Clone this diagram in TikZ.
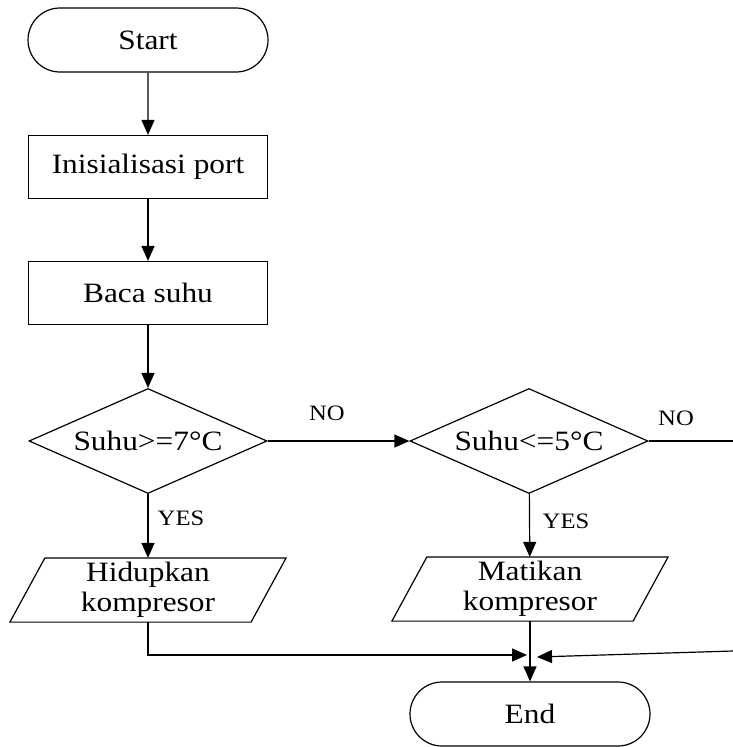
\documentclass[tikz,border=0pt]{standalone}
\usepackage{fontspec}
\setmainfont{Liberation Serif}[FakeStretch=1.12]
\usetikzlibrary{shapes.misc,shapes.geometric,arrows.meta}
\begin{document}
\begin{tikzpicture}[x=1pt,y=-1pt,
  line width=1.2pt,
  every node/.style={font=\fontsize{28}{30}\selectfont},
  term/.style={draw,rounded rectangle,minimum width=240pt,minimum height=64pt,inner sep=0pt},
  procbox/.style={draw,rectangle,minimum width=239pt,minimum height=63pt,inner sep=0pt},
  decide/.style={draw,diamond,aspect=2.27,inner sep=0pt,minimum width=238pt,minimum height=105pt},
  iobox/.style={rectangle,minimum width=240pt,minimum height=63pt,inner sep=0pt,align=center},
  lbl/.style={font=\fontsize{22}{24}\selectfont},
  arr/.style={-{Triangle[length=15pt,width=13pt]}}
]
\useasboundingbox (0,0) rectangle (733,747);
\node[term] (start) at (148,40) {Start};
\node[procbox] (init) at (148,167) {Inisialisasi port};
\node[procbox] (baca) at (148,293) {Baca suhu};
\node[decide] (d1) at (148,441) {Suhu>=7°C};
\node[decide] (d2) at (529,441) {Suhu<=5°C};
\node[iobox] (p1) at (148,590) {Hidupkan\\kompresor};
\node[iobox] (p2) at (530,589) {Matikan\\kompresor};
\node[term] (end) at (530,714) {End};
\foreach \p in {p1,p2}{
  \draw ([xshift=17.5pt]\p.north west) -- ([xshift=17.5pt]\p.north east)
     -- ([xshift=-17.5pt]\p.south east) -- ([xshift=-17.5pt]\p.south west) -- cycle;
}
\coordinate (noend) at (733,441);
\coordinate (rin) at (733,651);
\coordinate (lt) at (527,655);
\coordinate (rt) at (537,657);
\draw[arr] (start) -- (init);
\draw[arr] (init) -- (baca);
\draw[arr] (baca) -- (d1);
\draw[arr] (d1) -- (d2);
\draw[arr] (d1) -- (p1);
\draw[arr] (d2) -- (p2);
\draw (d2.east) -- (noend);
\draw[arr] (p2) -- (end);
\draw[arr] (p1.south) |- (lt);
\draw[arr] (rin) -- (rt);
\node[lbl] at (327,413) {NO};
\node[lbl] at (676,418) {NO};
\node[lbl] at (181,518) {YES};
\node[lbl] at (566,521) {YES};
\end{tikzpicture}
\end{document}
